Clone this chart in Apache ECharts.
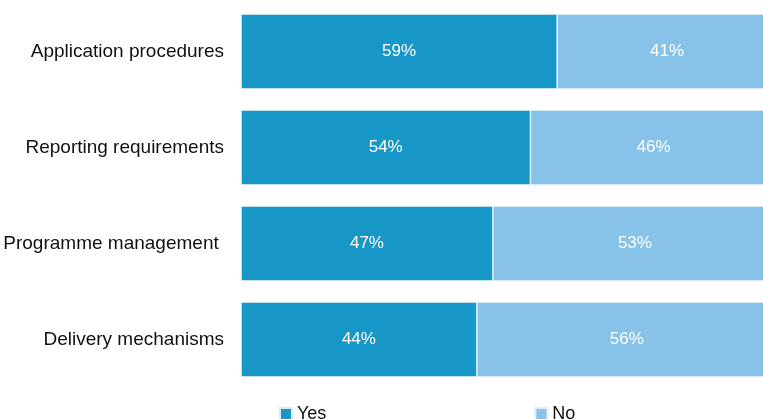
<!DOCTYPE html>
<html><head><meta charset="utf-8">
<script src="https://cdn.jsdelivr.net/npm/echarts@6/dist/echarts.min.js"></script>
<style>html,body{margin:0;padding:0;background:#fff}#c{width:763px;height:419px}</style>
</head><body><div id="c"></div>
<script>
const categories = ["Application procedures","Reporting requirements","Programme management ","Delivery mechanisms"];
const yesValues = [59,54,47,44];
const noValues = [41,46,53,56];
const seriesNames = ["Yes","No"];

const chart = echarts.init(document.getElementById('c'), null, {renderer:'canvas'});
const font = "'Liberation Sans', Arial, sans-serif";
const lbl = {show:true, position:'inside', color:'#fff', fontSize:17, fontFamily:font, formatter:'{c}%'};
// plot area runs past the right edge of the picture (cropped): 100% would sit at x≈777
chart.setOption({
  animation:false,
  grid:{left:241, top:3.5, right:0, height:384, containLabel:false},
  xAxis:{type:'value', min:0, max:97.4, show:false},
  yAxis:{type:'category', inverse:true, data:categories,
    axisLine:{show:false}, axisTick:{show:false},
    axisLabel:{fontSize:19, color:'#111', fontFamily:font, margin:17}},
  legend:{left:279, top:405, padding:0, itemWidth:12, itemHeight:12, itemGap:208,
    icon:'rect', textStyle:{fontSize:18, color:'#111', fontFamily:font},
    data:seriesNames},
  series:[
    {name:seriesNames[0], type:'bar', stack:'s', barWidth:75, data:yesValues, clip:false,
     itemStyle:{color:'#1797C8', borderColor:'#D6ECF6', borderWidth:0.8}, label:lbl},
    {name:seriesNames[1], type:'bar', stack:'s', barWidth:75, data:noValues, clip:false,
     itemStyle:{color:'#87C3E9', borderColor:'#DCEEF9', borderWidth:0.8}, label:lbl}
  ]
});
</script></body></html>
